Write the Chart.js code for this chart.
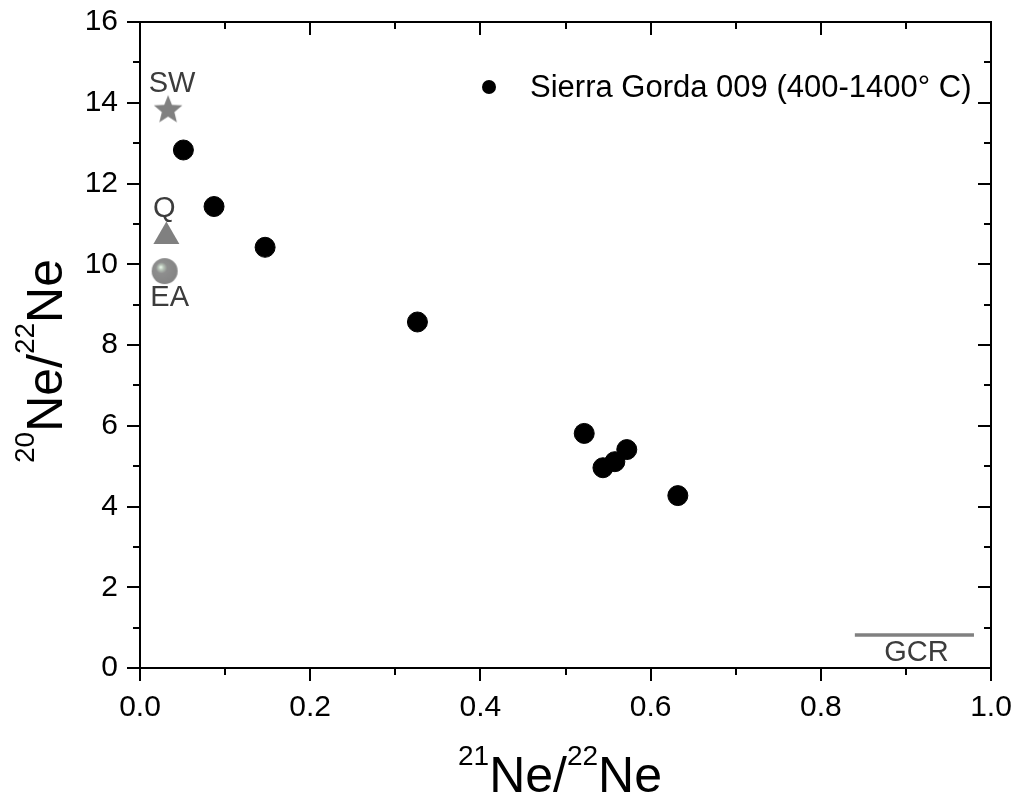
<!DOCTYPE html>
<html>
<head>
<meta charset="utf-8">
<script src="https://cdn.jsdelivr.net/npm/chart.js@4"></script>
<style>
  body { margin: 0; background: #fff; }
  canvas { display: block; }
</style>
</head>
<body>
<canvas id="neChart" width="1017" height="808"></canvas>
<script>
// Sierra Gorda 009 step heating (400-1400 C)
const sgX = [0.051, 0.087, 0.147, 0.326, 0.522, 0.544, 0.558, 0.572, 0.632];
const sgY = [12.83, 11.43, 10.42, 8.57, 5.81, 4.96, 5.11, 5.41, 4.27];

// end-members
const refNames = ["SW", "Q", "EA"];
const refX = [0.033, 0.031, 0.029];
const refY = [13.83, 10.69, 9.83];

// GCR segment
const gcrX = [0.84, 0.98];
const gcrY = [0.82, 0.82];

const xTicks = [0, 0.2, 0.4, 0.6, 0.8, 1.0];
const yTicks = [0, 2, 4, 6, 8, 10, 12, 14, 16];
const legendText = "Sierra Gorda 009 (400-1400° C)";

const FONT = "Arial, 'Liberation Sans', sans-serif";
const GREY = "#808080";
const LABEL = "#3c3c3c";

function starCanvas() {
  const c = document.createElement("canvas");
  c.width = 32; c.height = 32;
  const g = c.getContext("2d");
  g.fillStyle = GREY;
  g.beginPath();
  for (let i = 0; i < 10; i++) {
    const r = i % 2 ? 6.6 : 15;
    const a = -Math.PI / 2 + i * Math.PI / 5;
    g.lineTo(16 + r * Math.cos(a), 16.5 + r * Math.sin(a));
  }
  g.closePath();
  g.fill();
  return c;
}

function sphereCanvas() {
  const c = document.createElement("canvas");
  c.width = 28; c.height = 28;
  const g = c.getContext("2d");
  const grad = g.createRadialGradient(10, 10, 0, 12, 12, 14);
  grad.addColorStop(0, "#f2fff2");
  grad.addColorStop(0.18, "#b8c4b8");
  grad.addColorStop(0.4, "#8e8e8e");
  grad.addColorStop(1, "#858585");
  g.fillStyle = grad;
  g.beginPath();
  g.arc(14, 14, 13, 0, Math.PI * 2);
  g.fill();
  return c;
}

const refStyles = [starCanvas(), "triangle", sphereCanvas()];

// minor ticks, mirrored ticks on top/right, frame, labels, legend, axis titles
const decorations = {
  id: "decorations",
  afterDraw(chart) {
    const { ctx, chartArea: a, scales: { x, y } } = chart;
    ctx.save();
    ctx.strokeStyle = "#000";
    ctx.lineWidth = 2;
    ctx.beginPath();
    ctx.moveTo(a.left, a.top); ctx.lineTo(a.right, a.top); ctx.lineTo(a.right, a.bottom);
    for (let v = 0; v <= 16; v++) {
      const py = Math.round(y.getPixelForValue(v));
      const len = v % 2 ? 7 : 13;
      ctx.moveTo(a.right, py); ctx.lineTo(a.right - len, py);
      if (v % 2) { ctx.moveTo(a.left, py); ctx.lineTo(a.left - len, py); }
    }
    for (let i = 0; i <= 10; i++) {
      const px = Math.round(x.getPixelForValue(i / 10));
      const len = i % 2 ? 7 : 13;
      ctx.moveTo(px, a.top); ctx.lineTo(px, a.top + len);
      if (i % 2) { ctx.moveTo(px, a.bottom); ctx.lineTo(px, a.bottom + len); }
    }
    ctx.stroke();

    // end-member labels
    ctx.font = "29px " + FONT;
    ctx.fillStyle = LABEL;
    ctx.textAlign = "center";
    ctx.textBaseline = "middle";
    const offs = [[4, -26], [-2, -27], [5, 27]];
    refNames.forEach((n, i) => {
      ctx.fillText(n, x.getPixelForValue(refX[i]) + offs[i][0], y.getPixelForValue(refY[i]) + offs[i][1]);
    });
    ctx.fillText("GCR", (x.getPixelForValue(gcrX[0]) + x.getPixelForValue(gcrX[1])) / 2 + 2,
      y.getPixelForValue(gcrY[0]) + 18);

    // legend
    ctx.fillStyle = "#000";
    ctx.beginPath();
    ctx.arc(a.left + 349, a.top + 65, 7, 0, Math.PI * 2);
    ctx.fill();
    ctx.textAlign = "left";
    ctx.font = "31px " + FONT;
    ctx.fillText(legendText, a.left + 390, a.top + 66);

    // axis titles with superscripts
    const big = "50px " + FONT, small = "28px " + FONT;
    const drawTitle = (pieces, cx, cy) => {
      let w = 0;
      pieces.forEach(p => { ctx.font = p[1]; w += ctx.measureText(p[0]).width; });
      let px = cx - w / 2;
      ctx.textAlign = "left";
      ctx.textBaseline = "alphabetic";
      pieces.forEach(p => {
        ctx.font = p[1];
        ctx.fillText(p[0], px, cy + p[2]);
        px += ctx.measureText(p[0]).width;
      });
    };
    drawTitle([["21", small, -27], ["Ne/", big, 0], ["22", small, -27], ["Ne", big, 0]], 560, 792);
    ctx.save();
    ctx.translate(62, 0);
    ctx.rotate(-Math.PI / 2);
    drawTitle([["20", small, -28], ["Ne/", big, 0], ["22", small, -28], ["Ne", big, 0]], -361, 0);
    ctx.restore();
    ctx.restore();
  }
};

new Chart(document.getElementById("neChart"), {
  type: "scatter",
  data: {
    datasets: [
      {
        label: legendText,
        data: sgX.map((v, i) => ({ x: v, y: sgY[i] })),
        backgroundColor: "#000",
        borderColor: "#000",
        pointRadius: 10,
        pointHoverRadius: 10,
      },
      {
        label: "end-members",
        data: refX.map((v, i) => ({ x: v, y: refY[i] })),
        pointStyle: refStyles,
        backgroundColor: GREY,
        borderColor: GREY,
        borderWidth: 0,
        pointRadius: 15,
      },
      {
        label: "GCR",
        type: "line",
        data: gcrX.map((v, i) => ({ x: v, y: gcrY[i] })),
        borderColor: GREY,
        borderWidth: 3.5,
        pointRadius: 0,
        fill: false,
      },
    ],
  },
  options: {
    responsive: false,
    animation: false,
    layout: { padding: { left: 0, top: 22, right: 26, bottom: 0 } },
    plugins: { legend: { display: false }, tooltip: { enabled: false } },
    scales: {
      x: {
        type: "linear",
        min: 0, max: 1,
        afterBuildTicks: s => { s.ticks = xTicks.map(v => ({ value: v })); },
        afterFit: s => { s.height = 140; s.paddingLeft = 0; s.paddingRight = 0; },
        ticks: { font: { size: 30, family: FONT }, color: "#000", padding: 9, callback: v => v.toFixed(1), maxRotation: 0 },
        grid: { drawOnChartArea: false, drawTicks: true, tickLength: 13, color: "#000", lineWidth: 2 },
        border: { display: true, color: "#000", width: 2 },
      },
      y: {
        type: "linear",
        min: 0, max: 16,
        afterBuildTicks: s => { s.ticks = yTicks.map(v => ({ value: v })); },
        afterFit: s => { s.width = 140; s.paddingTop = 0; s.paddingBottom = 0; },
        ticks: { font: { size: 30, family: FONT }, color: "#000", padding: 9 },
        grid: { drawOnChartArea: false, drawTicks: true, tickLength: 13, color: "#000", lineWidth: 2 },
        border: { display: true, color: "#000", width: 2 },
      },
    },
  },
  plugins: [decorations],
});
</script>
</body>
</html>
